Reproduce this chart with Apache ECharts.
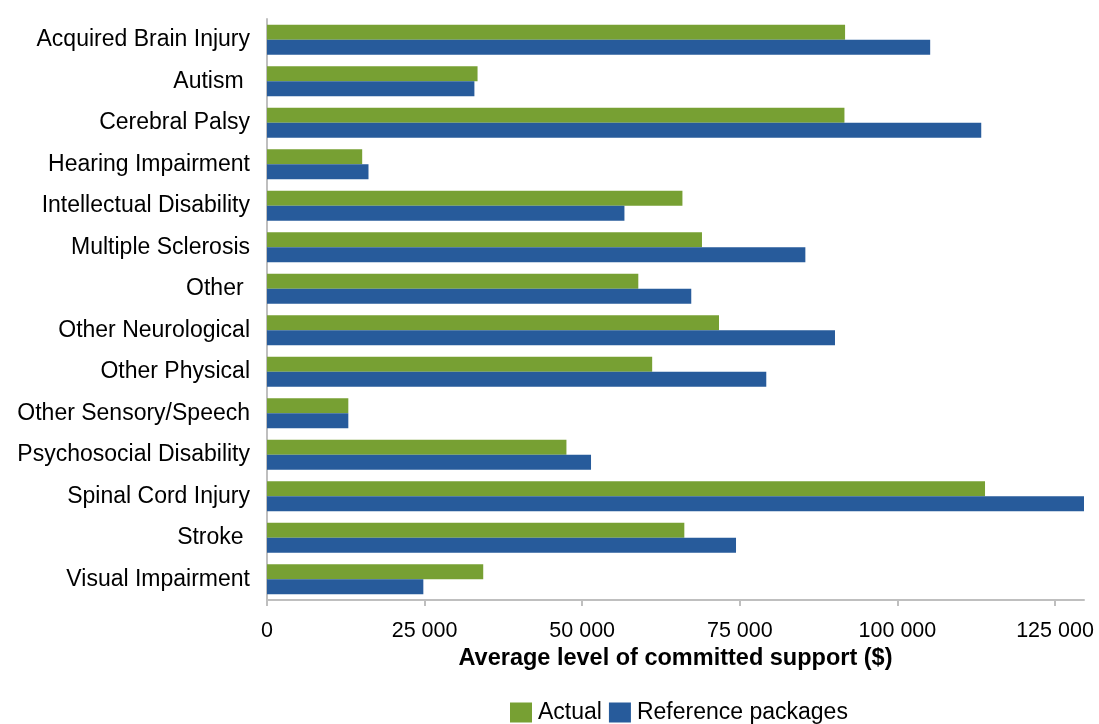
<!DOCTYPE html>
<html>
<head>
<meta charset="utf-8">
<script src="https://cdn.jsdelivr.net/npm/echarts@6/dist/echarts.min.js"></script>
<style>html,body{margin:0;padding:0;background:#fff}#c{width:1099px;height:724px}</style>
</head>
<body>
<div id="c"></div>
<script>
const categories = ["Acquired Brain Injury","Autism ","Cerebral Palsy","Hearing Impairment","Intellectual Disability","Multiple Sclerosis","Other ","Other Neurological","Other Physical","Other Sensory/Speech","Psychosocial Disability","Spinal Cord Injury","Stroke ","Visual Impairment"];
const actual = [91700,33400,91600,15100,65900,69000,58900,71700,61100,12900,47500,113900,66200,34300];
const reference = [105200,32900,113300,16100,56700,85400,67300,90100,79200,12900,51400,129600,74400,24800];
const tickValues = [0,25000,50000,75000,100000,125000];
const axisTitle = "Average level of committed support ($)";
const seriesNames = ["Actual","Reference packages"];

const FONT = 'Liberation Sans, Arial, sans-serif';
const chart = echarts.init(document.getElementById('c'));
const fmt = v => v === 0 ? '0' : String(v).replace(/\B(?=(\d{3})+(?!\d))/g, ' ');
chart.setOption({
  animation: false,
  textStyle: {fontFamily: FONT},
  grid: {left: 267, right: 15, top: 19, bottom: 124, containLabel: false},
  legend: {
    top: 696, left: 505, itemWidth: 22, itemHeight: 20, itemGap: 7,
    icon: 'rect',
    textStyle: {fontSize: 23, color: '#000', fontFamily: FONT, padding: [3, 0, 0, 1]},
    data: seriesNames
  },
  xAxis: {
    type: 'value', min: 0, max: 129600,
    name: axisTitle, nameLocation: 'middle', nameGap: 47,
    nameTextStyle: {fontSize: 23.5, fontWeight: 'bold', color: '#000', fontFamily: FONT},
    axisLine: {show: true, lineStyle: {color: '#bfbfbf', width: 2}},
    axisTick: {show: true, length: 6, lineStyle: {color: '#bfbfbf', width: 2}, customValues: tickValues},
    axisLabel: {fontSize: 21.5, color: '#000', margin: 20, formatter: fmt, customValues: tickValues},
    splitLine: {show: false}
  },
  yAxis: {
    type: 'category', data: categories, inverse: true,
    axisLine: {show: true, lineStyle: {color: '#bfbfbf', width: 2}},
    axisTick: {show: false},
    axisLabel: {fontSize: 23, color: '#000', margin: 17},
    splitLine: {show: false}
  },
  series: [
    {name: seriesNames[0], type: 'bar', data: actual, itemStyle: {color: '#77a033'}, barGap: '0%', barCategoryGap: '28%'},
    {name: seriesNames[1], type: 'bar', data: reference, itemStyle: {color: '#275b9b'}, barGap: '0%', barCategoryGap: '28%'}
  ]
});
</script>
</body>
</html>
